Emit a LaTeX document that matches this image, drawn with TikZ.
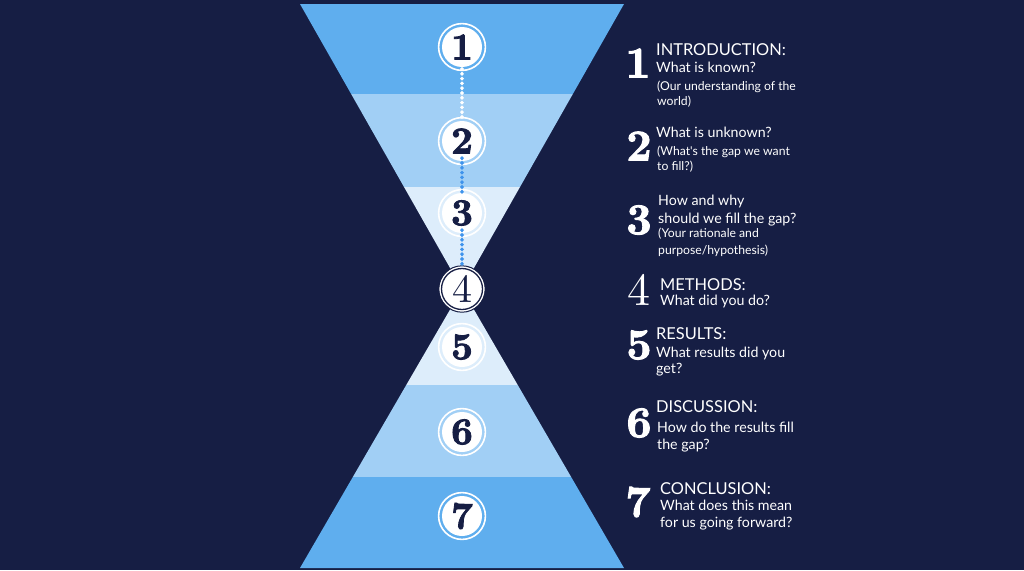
\documentclass[tikz,border=0pt]{standalone}
\usepackage{fontspec}
\usetikzlibrary{decorations.markings}
\newfontfamily\lato{Lato}
\newfontfamily\numfont{lmroman10-bold.otf}[FakeBold=2.2]
\newfontfamily\numlight{lmroman10-regular.otf}
\definecolor{navy}{HTML}{161E44}
\definecolor{blueA}{HTML}{5FAEEE}
\definecolor{blueB}{HTML}{A1CFF5}
\definecolor{blueC}{HTML}{DDEDFB}
\definecolor{dotblue}{HTML}{3E93EC}
\tikzset{
  numcirc/.style={circle, fill=white, minimum size=40pt, inner sep=0pt, text=navy,
    font=\numfont\fontsize{38}{38}\selectfont},
  bignum/.style={inner sep=0pt, text=white, font=\numfont\fontsize{44}{44}\selectfont},
  head/.style={anchor=base west, inner sep=0pt, text=white, font=\lato\fontsize{16.4}{16.4}\selectfont},
  sub/.style={anchor=base west, inner sep=0pt, text=white, font=\lato\fontsize{14.2}{14.2}\selectfont},
  small/.style={anchor=base west, inner sep=0pt, text=white, font=\lato\fontsize{12.2}{12.2}\selectfont},
  dotline/.style={decorate, decoration={markings,
    mark=between positions 0 and 1 step 4.8pt with
      {\fill[#1] (-2.1pt,0pt) -- (0pt,2pt) -- (2.1pt,0pt) -- (0pt,-2pt) -- cycle;}}},
}
\begin{document}
\begin{tikzpicture}[x=1pt,y=-1pt]
\useasboundingbox (0,0) rectangle (1024,570);
\fill[navy] (0,0) rectangle (1024,570);
% top triangle
\begin{scope}
\clip (300,4) -- (624,4) -- (462,289) -- cycle;
\fill[blueA] (290,0) rectangle (640,94);
\fill[blueB] (290,94) rectangle (640,187);
\fill[blueC] (290,187) rectangle (640,300);
\end{scope}
% bottom triangle
\begin{scope}
\clip (462,289) -- (624,568) -- (300,568) -- cycle;
\fill[blueC] (290,280) rectangle (640,385);
\fill[blueB] (290,385) rectangle (640,477);
\fill[blueA] (290,477) rectangle (640,570);
\end{scope}
% circles
\node[numcirc] (c1) at (462,47) {1};
\node[numcirc] (c2) at (462,141) {2};
\node[numcirc] (c3) at (462,213) {3};
\node[numcirc, minimum size=46pt, font=\numlight\fontsize{40}{40}\selectfont] (c4) at (462,289) {4};
\node[numcirc] (c5) at (462,347) {5};
\node[numcirc] (c6) at (462,432) {6};
\node[numcirc] (c7) at (462,516) {7};
\foreach \c in {c1,c2,c3,c5,c6,c7}{\draw[white, line width=1.6pt] (\c) circle (23.4);}
\draw[navy, line width=1.3pt] (c4) circle (20.5);
\draw[navy, line width=1pt] (c4) circle (23.2);
% dotted connectors
\path[dotline=white] ([yshift=3]c1.south) -- ([yshift=-1]c2.north);
\path[dotline=dotblue] ([yshift=3]c2.south) -- ([yshift=-1]c3.north);
\path[dotline=dotblue] ([yshift=3]c3.south) -- ([yshift=-1]c4.north);
% right side numbers
\node[bignum] (n1) at (638,63) {1};
\node[bignum] (n2) at (639,146) {2};
\node[bignum] (n3) at (639,220) {3};
\node[bignum, font=\numlight\fontsize{46}{46}\selectfont] (n4) at (639,290) {4};
\node[bignum] (n5) at (639,345) {5};
\node[bignum] (n6) at (639,423) {6};
\node[bignum] (n7) at (638,502) {7};
% texts
\node[head] (t1a) at (656,55) {INTRODUCTION:};
\node[sub] (t1b) at (656,72) {What is known?};
\node[small] (t1c) at (657,90) {(Our understanding of the};
\node[small] (t1d) at (657,105) {world)};
\node[sub] (t2a) at (656,137) {What is unknown?};
\node[small] (t2b) at (657,155) {(What's the gap we want};
\node[small] (t2c) at (657,170) {to fill?)};
\node[sub] (t3a) at (658,205) {How and why};
\node[sub] (t3b) at (658,223) {should we fill the gap?};
\node[small] (t3c) at (658,237) {(Your rationale and};
\node[small] (t3d) at (658,254) {purpose/hypothesis)};
\node[head] (t4a) at (660,290) {METHODS:};
\node[sub] (t4b) at (660,305) {What did you do?};
\node[head] (t5a) at (656,339) {RESULTS:};
\node[sub] (t5b) at (656,357) {What results did you};
\node[sub] (t5c) at (656,373) {get?};
\node[head] (t6a) at (656,412) {DISCUSSION:};
\node[sub] (t6b) at (657,432) {How do the results fill};
\node[sub] (t6c) at (657,449) {the gap?};
\node[head] (t7a) at (660,494) {CONCLUSION:};
\node[sub] (t7b) at (660,510) {What does this mean};
\node[sub] (t7c) at (660,527) {for us going forward?};
\end{tikzpicture}
\end{document}
